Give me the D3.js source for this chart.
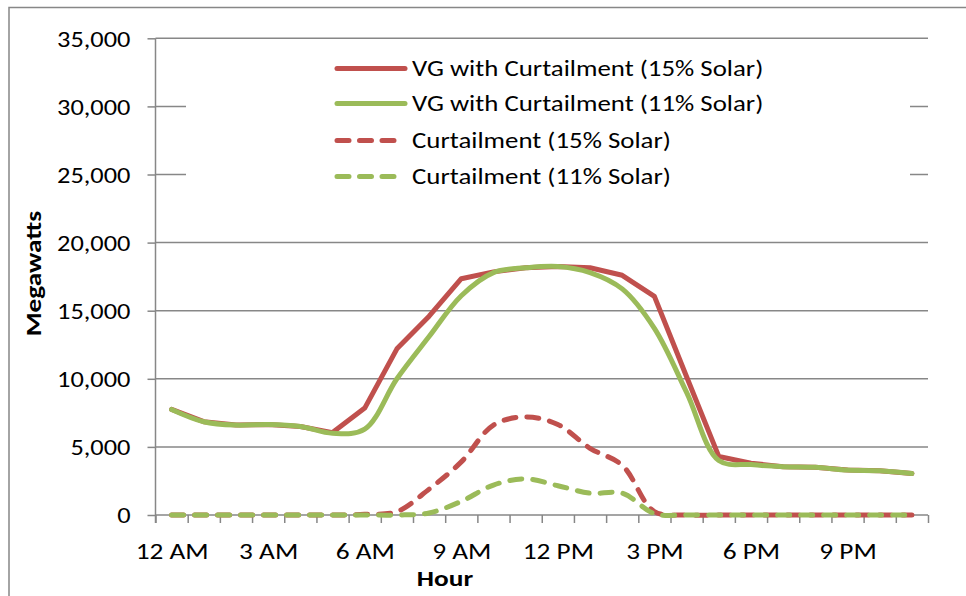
<!DOCTYPE html>
<html>
<head>
<meta charset="utf-8">
<script src="https://cdn.jsdelivr.net/npm/d3@7"></script>
<style>
  html, body { margin: 0; padding: 0; background: #fff; }
  svg { display: block; }
  text { font-family: Carlito, Calibri, Lato, sans-serif; fill: #000; }
</style>
</head>
<body>
<svg id="chart" width="966" height="596"></svg>
<script>
// ---- data ----
const hours = ["12 AM","1 AM","2 AM","3 AM","4 AM","5 AM","6 AM","7 AM","8 AM","9 AM","10 AM","11 AM",
               "12 PM","1 PM","2 PM","3 PM","4 PM","5 PM","6 PM","7 PM","8 PM","9 PM","10 PM","11 PM"];
const vg15  = [7750,6850,6600,6650,6500,6050,7850,12200,14600,17350,17850,18150,18250,18150,17600,16050,10150,4300,3800,3550,3500,3300,3250,3050];
const vg11  = [7750,6850,6600,6650,6500,6000,6300,10000,13100,16100,17800,18150,18250,17800,16600,13700,9000,4000,3700,3550,3500,3300,3250,3050];
const cur15 = [0,0,0,0,0,0,50,250,1900,3900,6600,7200,6650,4900,3650,250,0,0,0,0,0,0,0,0];
const cur11 = [0,0,0,0,0,0,0,0,150,1000,2200,2650,2150,1600,1600,100,0,0,0,0,0,0,0,0];
const yTicks = [0,5000,10000,15000,20000,25000,30000,35000];
const seriesNames = ["VG with Curtailment (15% Solar)","VG with Curtailment (11% Solar)","Curtailment (15% Solar)","Curtailment (11% Solar)"];

const RED = "#C0504D", GREEN = "#9BBB59", GRID = "#878787";
const series = [
  {name: seriesNames[0], values: vg15,  color: RED,   dash: null, smooth: false},
  {name: seriesNames[1], values: vg11,  color: GREEN, dash: null, smooth: true},
  {name: seriesNames[2], values: cur15, color: RED,   dash: "12,11", smooth: true},
  {name: seriesNames[3], values: cur11, color: GREEN, dash: "12,11", smooth: true}
];

const svg = d3.select("#chart");
const pLeft = 155.5, pRight = 928, pTop = 38.3, pBottom = 515;
const FONT = "Carlito, Calibri, Lato, sans-serif";
const FS = 22;

const x = d3.scaleLinear().domain([0, hours.length]).range([pLeft, pRight]);
const y = d3.scaleLinear().domain([0, 35000]).range([pBottom, pTop]);

// widen text to match the reference's wide lettering
function stretch(sel, k) {
  sel.each(function() {
    const w = this.getComputedTextLength();
    this.setAttribute("textLength", w * k);
    this.setAttribute("lengthAdjust", "spacingAndGlyphs");
  });
}

// outer border
svg.append("rect").attr("x", 9).attr("y", 7.5).attr("width", 1000).attr("height", 700)
  .attr("fill", "none").attr("stroke", GRID).attr("stroke-width", 1.5);

// gridlines
svg.append("g").selectAll("line").data(yTicks.filter(d => d > 0)).join("line")
  .attr("x1", pLeft).attr("x2", pRight)
  .attr("y1", d => y(d)).attr("y2", d => y(d))
  .attr("stroke", GRID).attr("stroke-width", 1.5);

// y axis
const yAxis = svg.append("g").attr("transform", `translate(${pLeft},0)`)
  .call(d3.axisLeft(y).tickValues(yTicks).tickSize(8).tickPadding(17).tickFormat(d3.format(",")));
yAxis.select(".domain").attr("stroke", GRID).attr("stroke-width", 1.5).attr("d", `M0,${pTop}V${pBottom + 8}`);
yAxis.selectAll(".tick line").attr("stroke", GRID).attr("stroke-width", 1.5);
yAxis.selectAll("text").attr("font-size", FS).attr("font-family", FONT).attr("dy", "0.36em").call(stretch, 1.2);

// x axis ticks (category boundaries)
const xAxis = svg.append("g").attr("transform", `translate(0,${pBottom})`)
  .call(d3.axisBottom(x).tickValues(d3.range(0, hours.length + 1)).tickSize(8).tickFormat(""));
xAxis.select(".domain").attr("stroke", GRID).attr("stroke-width", 1.5).attr("d", `M${pLeft},0H${pRight}`);
xAxis.selectAll(".tick line").attr("stroke", GRID).attr("stroke-width", 1.5);

// x labels at category centres
const xLab = svg.append("g").attr("transform", `translate(0,${pBottom})`)
  .call(d3.axisBottom(x).tickValues(d3.range(0, hours.length, 3).map(i => i + 0.5))
    .tickSize(0).tickPadding(28).tickFormat(d => hours[Math.floor(d)]));
xLab.select(".domain").remove();
xLab.selectAll("text").attr("font-size", FS).attr("font-family", FONT).call(stretch, 1.24);

// legend background box (hides gridlines behind)
const lg = svg.append("g");
lg.append("rect").attr("x", 186).attr("y", 48).attr("width", 724).attr("height", 150).attr("fill", "#fff");

// lines
const pts = v => v.map((d, i) => [x(i + 0.5), y(d)]);
series.forEach(s => {
  const line = d3.line().curve(s.smooth ? d3.curveCatmullRom.alpha(0.5) : d3.curveLinear);
  svg.append("path").attr("d", line(pts(s.values)))
    .attr("fill", "none").attr("stroke", s.color).attr("stroke-width", 5)
    .attr("stroke-linejoin", "round").attr("stroke-linecap", "round")
    .attr("stroke-dasharray", s.dash);
});

// legend items
const legendRows = [68.5, 103.5, 140.5, 176.5];
series.forEach((s, i) => {
  const g = lg.append("g").attr("transform", `translate(0,${legendRows[i]})`);
  g.append("line").attr("x1", 337).attr("x2", s.dash ? 395 : 405).attr("y1", 0).attr("y2", 0)
    .attr("stroke", s.color).attr("stroke-width", 5).attr("stroke-linecap", "round")
    .attr("stroke-dasharray", s.dash ? "12,10.5" : null);
  g.append("text").attr("x", 412).attr("y", 0).attr("dy", "0.36em")
    .attr("font-size", FS).text(s.name).call(stretch, 1.22);
});

// axis titles
svg.append("text").attr("transform", `translate(41,${(pTop + pBottom) / 2 - 3}) rotate(-90)`)
  .attr("text-anchor", "middle").attr("font-size", FS).attr("font-weight", "bold").text("Megawatts").call(stretch, 1.24);
svg.append("text").attr("x", 445).attr("y", 586).attr("text-anchor", "middle")
  .attr("font-size", FS).attr("font-weight", "bold").text("Hour").call(stretch, 1.24);
</script>
</body>
</html>
